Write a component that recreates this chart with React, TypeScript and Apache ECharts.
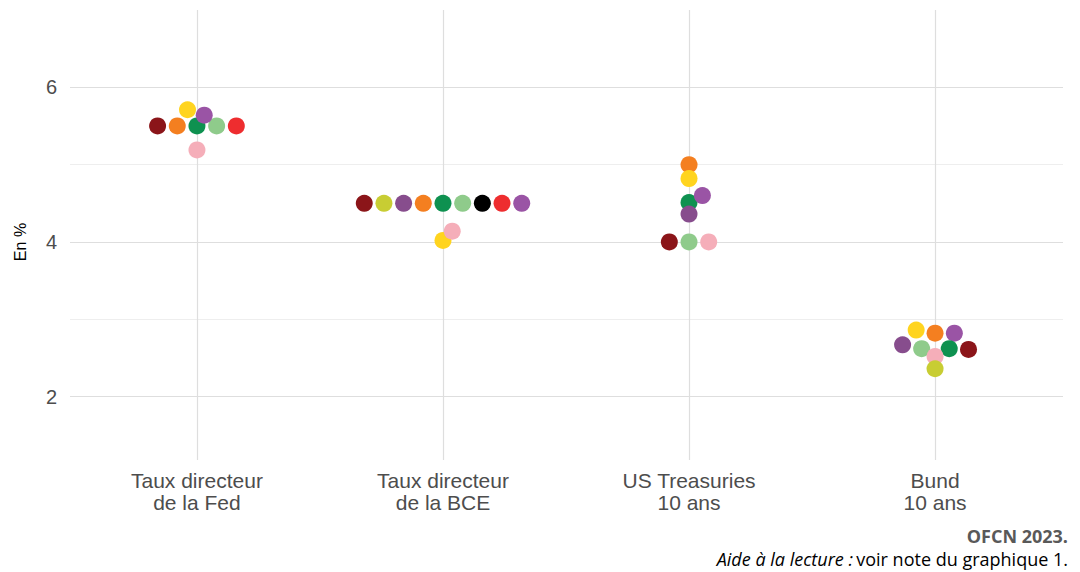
import React, { useEffect, useRef } from "react";
import * as echarts from "echarts";

// Categories (x axis)
const categories = ["Taux directeur\nde la Fed", "Taux directeur\nde la BCE", "US Treasuries\n10 ans", "Bund\n10 ans"];

// Palette of forecasters
const palette: Record<string, string> = {
  darkRed: "#8B1519",
  orange: "#F47F20",
  green: "#0E9150",
  lightGreen: "#8FCB8B",
  red: "#EE2D2F",
  yellow: "#FFD41F",
  purpleLight: "#9A54A5",
  pink: "#F5AEB9",
  olive: "#C8CD33",
  purpleDark: "#874D8D",
  black: "#000000",
};

// Fed
const fedColors = ["darkRed", "orange", "green", "lightGreen", "red", "yellow", "purpleLight", "pink"];
const fedValues = [5.5, 5.5, 5.5, 5.5, 5.5, 5.71, 5.64, 5.19];
const fedSlots = [-2, -1, 0, 1, 2, -0.48, 0.37, 0];

// BCE
const bceColors = ["darkRed", "olive", "purpleDark", "orange", "green", "lightGreen", "black", "red", "purpleLight", "yellow", "pink"];
const bceValues = [4.5, 4.5, 4.5, 4.5, 4.5, 4.5, 4.5, 4.5, 4.5, 4.02, 4.14];
const bceSlots = [-4, -3, -2, -1, 0, 1, 2, 3, 4, 0, 0.47];

// US Treasuries 10 ans
const ustColors = ["orange", "yellow", "green", "purpleLight", "purpleDark", "darkRed", "lightGreen", "pink"];
const ustValues = [5.0, 4.82, 4.51, 4.6, 4.36, 4.0, 4.0, 4.0];
const ustSlots = [0, 0, 0, 0.68, 0, -1, 0, 1];

// Bund 10 ans
const bundColors = ["yellow", "orange", "purpleLight", "purpleDark", "lightGreen", "green", "darkRed", "pink", "olive"];
const bundValues = [2.86, 2.82, 2.82, 2.67, 2.62, 2.62, 2.61, 2.52, 2.36];
const bundSlots = [-0.96, 0, 0.98, -1.65, -0.68, 0.72, 1.7, 0, 0];

const yTickLabels = [2, 4, 6];
const yMajorLines = [2, 4, 6];
const yMinorLines = [3, 5];

const groups = [
  { colors: fedColors, values: fedValues, slots: fedSlots },
  { colors: bceColors, values: bceValues, slots: bceSlots },
  { colors: ustColors, values: ustValues, slots: ustSlots },
  { colors: bundColors, values: bundValues, slots: bundSlots },
];

const SLOT_WIDTH = 0.08;

export default function App() {
  const ref = useRef<HTMLDivElement>(null);

  useEffect(() => {
    if (!ref.current) return;
    const chart = echarts.init(ref.current, null, { renderer: "svg" });

    const points: any[] = [];
    groups.forEach((g, gi) => {
      g.values.forEach((v, i) => {
        points.push({
          value: [gi + 1 + g.slots[i] * SLOT_WIDTH, v],
          itemStyle: { color: palette[g.colors[i]], opacity: 1 },
        });
      });
    });

    const font = "'Liberation Sans', Arial, sans-serif";
    const capFont = "'Open Sans', sans-serif";

    chart.setOption({
      animation: false,
      backgroundColor: "#ffffff",
      grid: { left: 70, right: 17, top: 10, bottom: 112 },
      xAxis: {
        type: "value",
        min: 0.484,
        max: 4.52,
        axisLine: { show: false },
        axisTick: { show: false },
        splitLine: { show: false },
        axisLabel: {
          customValues: [1, 2, 3, 4],
          formatter: (v: number) => categories[Math.round(v) - 1] ?? "",
          fontFamily: font,
          fontSize: 21,
          color: "#4d4d4d",
          lineHeight: 22,
          margin: 9,
        },
      },
      yAxis: {
        type: "value",
        min: 1.18,
        max: 7.0,
        axisLine: { show: false },
        axisTick: { show: false },
        splitLine: { show: false },
        axisLabel: {
          customValues: yTickLabels,
          fontFamily: font,
          fontSize: 20,
          color: "#4d4d4d",
          margin: 13,
        },
      },
      graphic: [
        {
          type: "text",
          x: 20,
          y: 242,
          rotation: Math.PI / 2,
          style: {
            text: "En %",
            fontFamily: font,
            fontSize: 16,
            fill: "#000000",
            align: "center",
            verticalAlign: "middle",
          },
        },
        {
          type: "text",
          right: 12,
          top: 527,
          style: {
            text: "OFCN 2023.",
            fontFamily: capFont,
            fontWeight: "bold",
            fontSize: 18,
            fill: "#595959",
          },
        },
        {
          type: "text",
          right: 12,
          top: 550,
          style: {
            rich: {
              i: { fontFamily: capFont, fontStyle: "italic", fontSize: 18, fill: "#000" },
              n: { fontFamily: capFont, fontSize: 18, fill: "#000" },
            },
            text: "{i|Aide à la lecture :} {n|voir note du graphique 1.}",
          },
        },
      ],
      series: [
        {
          type: "line",
          data: [],
          silent: true,
          z: 0,
          markLine: {
            silent: true,
            symbol: "none",
            z: 0,
            label: { show: false },
            data: [
              ...yMinorLines.map((y) => ({ yAxis: y, lineStyle: { color: "#eeeeee", width: 1, type: "solid" } })),
              ...yMajorLines.map((y) => ({ yAxis: y, lineStyle: { color: "#dedede", width: 1, type: "solid" } })),
              ...[1, 2, 3, 4].map((x) => ({ xAxis: x, lineStyle: { color: "#dedede", width: 1.2, type: "solid" } })),
            ],
          },
        },
        {
          type: "scatter",
          z: 10,
          symbolSize: 17,
          itemStyle: { opacity: 1 },
          data: points,
        },
      ],
    });

    return () => chart.dispose();
  }, []);

  return <div ref={ref} style={{ position: "fixed", left: 0, top: 0, width: 1080, height: 572 }} />;
}
